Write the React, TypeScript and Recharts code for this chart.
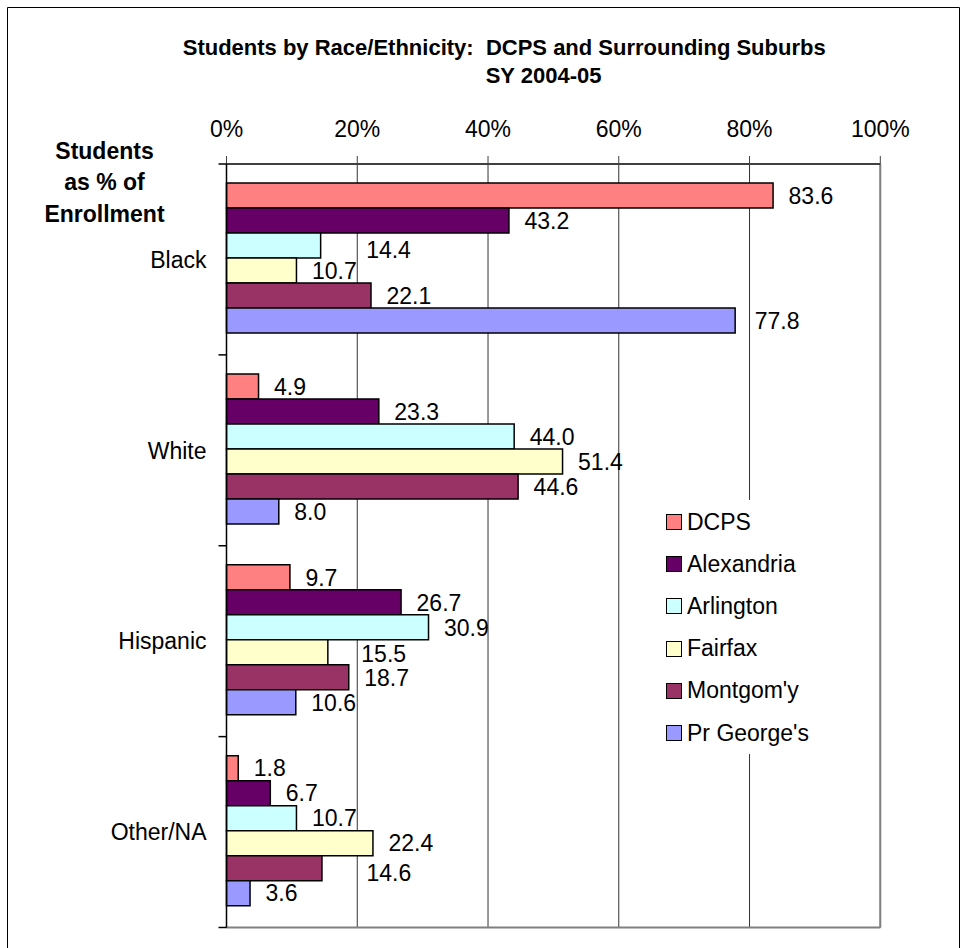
import {
  BarChart,
  Bar,
  XAxis,
  YAxis,
  CartesianGrid,
  ReferenceLine,
  LabelList,
  Legend,
} from "recharts";

const categories = ["Black", "White", "Hispanic", "Other/NA"];
const seriesNames = ["DCPS", "Alexandria", "Arlington", "Fairfax", "Montgom'y", "Pr George's"];

const dcps = [83.6, 4.9, 9.7, 1.8];
const alexandria = [43.2, 23.3, 26.7, 6.7];
const arlington = [14.4, 44.0, 30.9, 10.7];
const fairfax = [10.7, 51.4, 15.5, 22.4];
const montgomery = [22.1, 44.6, 18.7, 14.6];
const prGeorges = [77.8, 8.0, 10.6, 3.6];

const percentTicks = [0, 20, 40, 60, 80, 100];

const seriesValues = [dcps, alexandria, arlington, fairfax, montgomery, prGeorges];
const seriesColors = ["#FF8080", "#660066", "#CCFFFF", "#FFFFCC", "#993366", "#9999FF"];

// a few labels were dragged away from the bar end in the original
const labelNudge: Record<string, [number, number]> = {
  "Black|Arlington": [30, 4],
  "Black|Pr George's": [4, 0],
  "Hispanic|Fairfax": [18, 1],
  "Other/NA|Montgom'y": [29, 5],
};

const data = categories.map((category, i) => {
  const row: Record<string, string | number> = { category };
  seriesValues.forEach((vals, s) => {
    row["s" + s] = vals[i];
  });
  return row;
});

const FONT = "'Liberation Sans', Arial, sans-serif";

const makeLabel = (s: number) => (props: any) => {
  const { x, y, width, height, value, index } = props;
  const nudge = labelNudge[`${categories[index]}|${seriesNames[s]}`] ?? [0, 0];
  return (
    <text
      x={Number(x) + Number(width) + 15.5 + nudge[0]}
      y={Number(y) + Number(height) / 2 + nudge[1]}
      dy="0.36em"
      fontSize={23}
      fill="#000"
    >
      {Number(value).toFixed(1)}
    </text>
  );
};

const CategoryTick = (props: any) => {
  const { x, y, payload, index } = props;
  const half = payload.offset || 95.5;
  const last = index === categories.length - 1;
  return (
    <g>
      <line x1={x - 8} x2={x} y1={y - half} y2={y - half} stroke="#000" strokeWidth={1.5} />
      {last && <line x1={x - 8} x2={x} y1={y + half} y2={y + half} stroke="#000" strokeWidth={1.5} />}
      <text x={x - 20} y={y} dy="0.36em" textAnchor="end" fontSize={23} fill="#000">
        {payload.value}
      </text>
    </g>
  );
};

const renderLegend = (props: any) => {
  const items = [...(props.payload || [])].sort(
    (a: any, b: any) => seriesNames.indexOf(a.value) - seriesNames.indexOf(b.value)
  );
  return (
    <div style={{ paddingTop: 1, fontFamily: FONT }}>
      {items.map((item: any) => (
        <div
          key={item.value}
          style={{ height: 42.2, display: "flex", alignItems: "center", fontSize: 23, color: "#000" }}
        >
          <span
            style={{
              display: "inline-block",
              width: 14,
              height: 14,
              marginLeft: 11,
              marginRight: 5,
              background: seriesColors[seriesNames.indexOf(item.value)],
              border: "1.5px solid #000",
            }}
          />
          {item.value}
        </div>
      ))}
    </div>
  );
};

export default function App() {
  return (
    <div
      style={{
        position: "absolute",
        left: 0,
        top: 0,
        width: 969,
        height: 948,
        background: "#fff",
        fontFamily: FONT,
      }}
    >
      <BarChart
        width={969}
        height={948}
        data={data}
        layout="vertical"
        margin={{ top: 124, right: 88.7, bottom: 10.5, left: 106.5 }}
        barCategoryGap="10%"
        barGap={0}
      >
        <CartesianGrid horizontal={false} stroke="#333" />
        <XAxis
          type="number"
          orientation="top"
          domain={[0, 100]}
          ticks={percentTicks}
          tickFormatter={(v) => v + "%"}
          height={40}
          tickSize={8}
          tickMargin={19}
          interval={0}
          axisLine={{ stroke: "#404040", strokeWidth: 2 }}
          tickLine={{ stroke: "#404040" }}
          tick={{ fill: "#000", fontSize: 23 }}
        />
        <XAxis
          xAxisId="bottom"
          type="number"
          orientation="bottom"
          domain={[0, 100]}
          height={10}
          tick={false}
          tickLine={false}
          axisLine={{ stroke: "#808080", strokeWidth: 2 }}
        />
        <YAxis
          type="category"
          dataKey="category"
          width={120}
          tickSize={0}
          tickMargin={0}
          tickLine={false}
          interval={0}
          axisLine={{ stroke: "#000", strokeWidth: 1.5 }}
          tick={<CategoryTick />}
        />
        <ReferenceLine x={100} stroke="#808080" strokeWidth={2} />
        <Legend
          layout="vertical"
          align="center"
          verticalAlign="middle"
          content={renderLegend}
          wrapperStyle={{ left: 655, top: 500, width: 190, height: 254, background: "#fff" }}
        />
        {seriesNames.map((name, s) => (
          <Bar
            key={name}
            dataKey={"s" + s}
            name={name}
            fill={seriesColors[s]}
            stroke="#000"
            strokeWidth={1.5}
            isAnimationActive={false}
          >
            <LabelList dataKey={"s" + s} content={makeLabel(s)} />
          </Bar>
        ))}
      </BarChart>
      <svg
        width={969}
        height={948}
        style={{ position: "absolute", left: 0, top: 0, pointerEvents: "none" }}
      >
        <path d="M7.5 948 V7.5 H959.5 V948" fill="none" stroke="#000" strokeWidth={1} />
        <text x={504.2} y={55} textAnchor="middle" fontSize={22} fontWeight="bold" fill="#000">
          Students by Race/Ethnicity:{"\u00a0\u00a0"}DCPS and Surrounding Suburbs
        </text>
        <text x={543.6} y={83} textAnchor="middle" fontSize={22} fontWeight="bold" fill="#000">
          SY 2004-05
        </text>
        <text x={104.5} textAnchor="middle" fontSize={23} fontWeight="bold" fill="#000">
          <tspan x={104.5} y={158.5}>Students</tspan>
          <tspan x={104.5} y={190}>as % of</tspan>
          <tspan x={104.5} y={221.7}>Enrollment</tspan>
        </text>
      </svg>
    </div>
  );
}
